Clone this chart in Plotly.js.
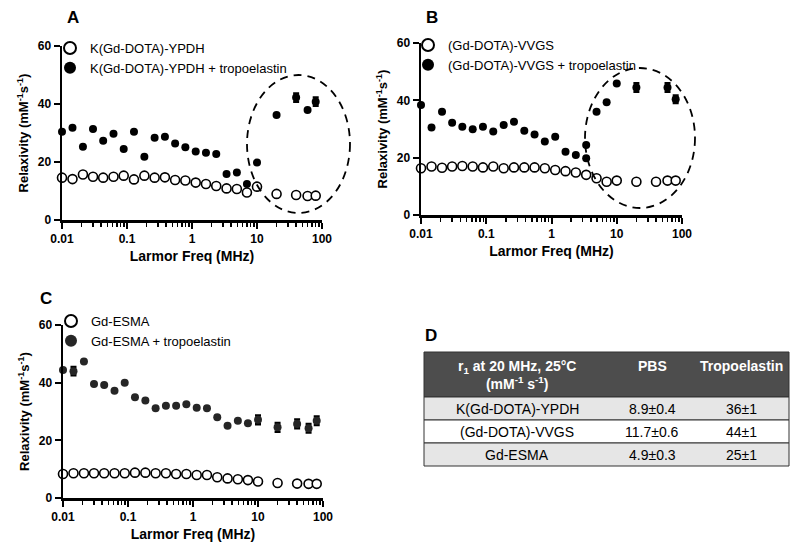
<!DOCTYPE html>
<html>
<head>
<meta charset="utf-8">
<script src="https://cdn.plot.ly/plotly-3.0.1.min.js"></script>
<style>
  html, body { margin: 0; padding: 0; background: #fff; }
  #chart { width: 800px; height: 553px; }
</style>
</head>
<body>
<div id="chart"></div>
<script>
// Larmor frequencies (MHz) of the NMRD profiles
const freqMHz = [0.01, 0.0145, 0.021, 0.030, 0.043, 0.062, 0.089, 0.128, 0.185, 0.266,
  0.383, 0.55, 0.79, 1.14, 1.64, 2.36, 3.4, 4.9, 7.0, 10, 20, 40, 60, 80];
// the VVGS + tropoelastin run has a doubled point near 3.4 MHz and no 40 MHz point
const freqVvgsTropo = [0.01, 0.0145, 0.021, 0.030, 0.043, 0.062, 0.089, 0.128, 0.185, 0.266,
  0.383, 0.55, 0.79, 1.14, 1.64, 2.36, 3.4, 3.4, 4.9, 7.0, 10, 20, 60, 80];

// A: K(Gd-DOTA)-YPDH
const ypdhPBS = [14.6, 14.1, 15.7, 14.9, 14.6, 14.9, 15.3, 14.0, 15.3, 14.6, 14.7, 13.8,
  13.6, 12.9, 12.4, 11.7, 10.9, 10.7, 9.5, 11.5, 9.0, 8.6, 8.3, 8.4];
const ypdhTropo = [30.4, 31.8, 25.3, 31.4, 27.3, 29.7, 24.5, 30.4, 21.8, 28.4, 28.7, 26.4,
  25.1, 23.6, 23.2, 22.8, 15.9, 16.4, 12.4, 19.8, 36.2, 42.2, 37.9, 40.8];
const ypdhTropoErr = [0, 0, 0, 0, 0, 0, 0, 0, 0, 0, 0, 0, 0, 0, 0, 0, 0, 0, 0, 0, 0, 1.4, 0, 1.4];

// B: (Gd-DOTA)-VVGS
const vvgsPBS = [16.3, 16.9, 16.5, 16.9, 17.1, 16.9, 16.6, 16.9, 16.3, 16.6, 16.6, 16.6,
  16.3, 15.7, 15.3, 14.8, 14.0, 12.8, 11.6, 12.0, 11.6, 11.6, 12.0, 12.0];
const vvgsTropo = [38.4, 30.5, 36.0, 32.2, 30.8, 29.9, 30.8, 29.1, 31.4, 32.5, 29.4, 28.1,
  25.6, 27.3, 22.1, 20.9, 24.4, 19.8, 36.0, 39.3, 45.9, 44.5, 44.5, 40.4];
const vvgsTropoErr = [0, 0, 0, 0, 0, 0, 0, 0, 0, 0, 0, 0, 0, 0, 0, 0, 0, 0, 0, 0, 0, 1.5, 1.5, 1.3];

// C: Gd-ESMA
const esmaPBS = [8.3, 8.6, 8.6, 8.6, 8.6, 8.6, 8.6, 8.8, 8.8, 8.6, 8.6, 8.3,
  8.3, 8.0, 8.0, 7.2, 6.8, 6.5, 6.2, 5.7, 5.2, 5.0, 4.9, 4.9];
const esmaTropo = [44.4, 44.0, 47.3, 39.5, 39.2, 37.2, 40.0, 34.9, 33.8, 31.1, 32.0, 32.0,
  32.5, 31.3, 31.1, 28.0, 25.1, 26.8, 25.9, 27.1, 24.5, 25.7, 24.2, 26.8];
const esmaTropoErr = [0, 1.4, 0, 0, 0, 0, 0, 0, 0, 0, 0, 0, 0, 0, 0, 0, 0, 0, 0, 1.5, 1.5, 1.5, 1.5, 1.5];

// D: r1 at 20 MHz table
const tableHeader = ["r<sub>1</sub> at 20 MHz, 25°C<br>(mM<sup>-1</sup> s<sup>-1</sup>)", "PBS", "Tropoelastin"];
const tableAgents = ["K(Gd-DOTA)-YPDH", "(Gd-DOTA)-VVGS", "Gd-ESMA"];
const tablePBS = ["8.9±0.4", "11.7±0.6", "4.9±0.3"];
const tableTropo = ["36±1", "44±1", "25±1"];

const FONT = "Liberation Sans, Arial, sans-serif";

// px -> paper helpers (figure is 800 x 553, no margins)
const px = (x) => x / 800;
const py = (y) => 1 - y / 553;

const openMarker = { symbol: "circle", size: 9, color: "white", line: { color: "black", width: 1.6 } };
const fillMarker = (c) => ({ symbol: "circle", size: 8, color: c, line: { width: 0 } });

function errBar(arr) {
  return { type: "data", array: arr, visible: true, color: "black", thickness: 2.5, width: 3 };
}

function panel(xa, ya, legend, x, yOpen, nameOpen, xTropo, yTropo, errTropo, nameTropo, fillColor) {
  return [
    {
      x: x, y: yOpen, type: "scatter", mode: "markers", name: nameOpen,
      xaxis: xa, yaxis: ya, legend: legend, cliponaxis: false,
      marker: openMarker,
    },
    {
      x: xTropo, y: yTropo, type: "scatter", mode: "markers", name: nameTropo,
      xaxis: xa, yaxis: ya, legend: legend, cliponaxis: false,
      marker: fillMarker(fillColor), error_y: errBar(errTropo),
    },
  ];
}

const traces = [
  ...panel("x", "y", "legend", freqMHz, ypdhPBS, "K(Gd-DOTA)-YPDH",
    freqMHz, ypdhTropo, ypdhTropoErr, "K(Gd-DOTA)-YPDH + tropoelastin", "black"),
  ...panel("x2", "y2", "legend2", freqMHz, vvgsPBS, "(Gd-DOTA)-VVGS",
    freqVvgsTropo, vvgsTropo, vvgsTropoErr, "(Gd-DOTA)-VVGS + tropoelastin", "black"),
  ...panel("x3", "y3", "legend3", freqMHz, esmaPBS, "Gd-ESMA",
    freqMHz, esmaTropo, esmaTropoErr, "Gd-ESMA + tropoelastin", "#262626"),
];

// minor ticks 2..9 for each decade
const minorTicks = [];
[0.01, 0.1, 1, 10].forEach((d) => {
  for (let k = 2; k <= 9; k++) minorTicks.push(+(d * k).toPrecision(3));
});

function xAxis(domain, anchor) {
  return {
    type: "log", range: [-2, 2], domain: domain, anchor: anchor,
    showline: true, linecolor: "black", linewidth: 2.5, mirror: false,
    showgrid: false, zeroline: false,
    ticks: "outside", ticklen: 6, tickwidth: 2, tickcolor: "black",
    tickmode: "array", tickvals: [0.01, 0.1, 1, 10, 100], ticktext: ["0.01", "0.1", "1", "10", "100"],
    tickfont: { family: FONT, size: 12, color: "black", weight: "bold" },
    minor: { tickmode: "array", tickvals: minorTicks, ticks: "outside", ticklen: 4, tickwidth: 1.5, tickcolor: "black", showgrid: false },
    title: { text: "Larmor Freq (MHz)", standoff: 7, font: { family: FONT, size: 14, color: "black", weight: "bold" } },
  };
}

function yAxis(domain, anchor) {
  return {
    range: [0, 60], domain: domain, anchor: anchor,
    showline: true, linecolor: "black", linewidth: 2.5,
    showgrid: false, zeroline: false,
    ticks: "outside", ticklen: 6, tickwidth: 2, tickcolor: "black",
    tickmode: "array", tickvals: [0, 20, 40, 60],
    tickfont: { family: FONT, size: 12, color: "black", weight: "bold" },
    title: { text: "Relaxivity (mM<sup>-1</sup>s<sup>-1</sup>)", standoff: 6, font: { family: FONT, size: 13, color: "black", weight: "bold" } },
  };
}

function legendAt(x, y) {
  return {
    x: px(x), y: py(y), xanchor: "left", yanchor: "top",
    bgcolor: "rgba(0,0,0,0)", borderwidth: 0,
    font: { family: FONT, size: 13, color: "black" },
    itemsizing: "constant", tracegroupgap: 0, itemwidth: 30,
  };
}

function label(text, x, y, size, color, weight) {
  return {
    text: text, x: px(x), y: py(y), xref: "paper", yref: "paper",
    showarrow: false, xanchor: "center", yanchor: "middle", align: "center",
    font: { family: FONT, size: size, color: color, weight: weight },
  };
}

function ellipse(x0, y0, x1, y1) {
  return {
    type: "circle", xref: "paper", yref: "paper",
    x0: px(x0), x1: px(x1), y0: py(y1), y1: py(y0),
    line: { color: "black", width: 1.8, dash: "8px,6px" },
  };
}

function box(x0, y0, x1, y1, fill, lineColor, lineWidth) {
  return {
    type: "rect", xref: "paper", yref: "paper", layer: "below",
    x0: px(x0), x1: px(x1), y0: py(y1), y1: py(y0),
    fillcolor: fill, line: { color: lineColor, width: lineWidth },
  };
}

// table D geometry (pixels)
const tabLeft = 424, tabRight = 789, tabTop = 352, headBottom = 397, rowH = 23;
const colCenters = [517, 652, 741];
const rowFill = ["#e6e6e6", "#ffffff", "#e6e6e6"];

const tableShapes = [box(tabLeft, tabTop, tabRight, headBottom, "#4d4d4d", "#333", 1)];
const tableNotes = [
  label(tableHeader[0], colCenters[0], 375, 14, "white", "bold"),
  label(tableHeader[1], colCenters[1], 366, 14, "white", "bold"),
  label(tableHeader[2], colCenters[2], 366, 14, "white", "bold"),
];
tableAgents.forEach((agent, i) => {
  const top = headBottom + i * rowH;
  tableShapes.push(box(tabLeft, top, tabRight, top + rowH, rowFill[i], "#333", 1));
  const cy = top + rowH / 2;
  tableNotes.push(label(agent, colCenters[0], cy, 14, "black", "normal"));
  tableNotes.push(label(tablePBS[i], colCenters[1], cy, 14, "black", "normal"));
  tableNotes.push(label(tableTropo[i], colCenters[2], cy, 14, "black", "normal"));
});

const layout = {
  width: 800, height: 553,
  margin: { l: 0, r: 0, t: 0, b: 0 },
  paper_bgcolor: "white", plot_bgcolor: "rgba(0,0,0,0)",
  font: { family: FONT, color: "black" },
  showlegend: true,
  xaxis: xAxis([px(62), px(322)], "y"),
  yaxis: yAxis([py(220), py(46)], "x"),
  xaxis2: xAxis([px(421), px(682)], "y2"),
  yaxis2: yAxis([py(215), py(43)], "x2"),
  xaxis3: xAxis([px(63), px(323)], "y3"),
  yaxis3: yAxis([py(498), py(325)], "x3"),
  legend: legendAt(50, 33),
  legend2: legendAt(408, 30),
  legend3: legendAt(51, 306),
  annotations: [
    label("A", 73, 18, 17, "black", "bold"),
    label("B", 432, 18, 17, "black", "bold"),
    label("C", 46, 298, 17, "black", "bold"),
    label("D", 431, 335, 17, "black", "bold"),
    ...tableNotes,
  ],
  shapes: [
    ellipse(247, 75, 350, 213),
    ellipse(585, 68, 695, 208),
    ...tableShapes,
  ],
};

Plotly.newPlot("chart", traces, layout, { displayModeBar: false, staticPlot: true });
</script>
</body>
</html>
